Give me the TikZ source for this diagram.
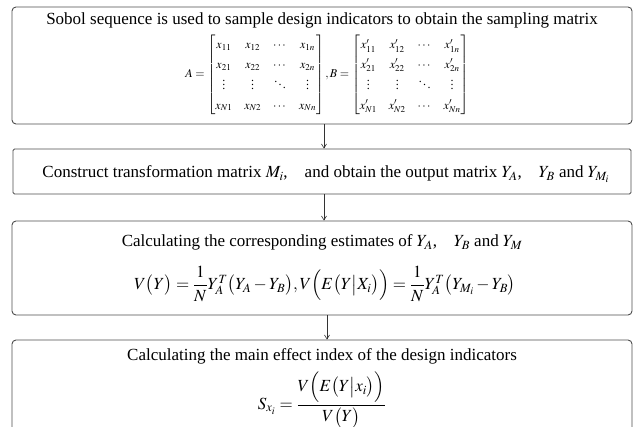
\documentclass[tikz,border=0pt]{standalone}
\usepackage{amsmath}
\usepackage{mathptmx}
\usepackage{fontspec}
\setmainfont{Liberation Serif}
\usetikzlibrary{arrows.meta}
\begin{document}
\begin{tikzpicture}[x=1pt,y=-1pt,
  box/.style={draw=black!70, line width=0.9pt, rounded corners=4pt, inner sep=0pt},
  sqbox/.style={draw=black!70, line width=0.9pt, rounded corners=1.5pt, inner sep=0pt},
  arr/.style={draw=black!80, line width=0.6pt, -{Straight Barb[length=4pt,width=5pt]}},
  txt/.style={font=\fontsize{17}{20}\selectfont, inner sep=0pt},
  eqn/.style={font=\fontsize{17}{20}\selectfont, inner sep=0pt},
  mat/.style={font=\fontsize{12}{14}\selectfont, inner sep=0pt}]
\useasboundingbox (0,0) rectangle (637,427);
\clip (0,0) rectangle (637,427);
% boxes
\node[box, minimum width=620pt, minimum height=117pt] (b1) at (322,65.5) {};
\node[sqbox, minimum width=618pt, minimum height=45pt] (b2) at (322,171.5) {};
\node[box, minimum width=620pt, minimum height=94pt] (b3) at (322,268) {};
\node[box, minimum width=620pt, minimum height=140pt] (b4) at (322,410) {};
% texts
\node[txt, anchor=base] (t1) at (322,25) {Sobol sequence is used to sample design indicators to obtain the sampling matrix};
\node[mat] (m1) at (327,75) {\renewcommand{\arraystretch}{1.4}\setlength{\arraycolsep}{6pt}$\displaystyle A=\begin{bmatrix} x_{11} & x_{12} & \cdots & x_{1n}\\ x_{21} & x_{22} & \cdots & x_{2n}\\ \vdots & \vdots & \ddots & \vdots\\ x_{N1} & x_{N2} & \cdots & x_{Nn}\end{bmatrix},B=\begin{bmatrix} x'_{11} & x'_{12} & \cdots & x'_{1n}\\ x'_{21} & x'_{22} & \cdots & x'_{2n}\\ \vdots & \vdots & \ddots & \vdots\\ x'_{N1} & x'_{N2} & \cdots & x'_{Nn}\end{bmatrix}$};
\node[txt, anchor=base] (t2) at (326,178) {Construct transformation matrix $M_i$,\quad and obtain the output matrix $Y_A$,\quad $Y_B$ and $Y_{M_i}$};
\node[txt, anchor=base] (t3) at (322,247) {Calculating the corresponding estimates of $Y_A$,\quad $Y_B$ and $Y_M$};
\node[eqn] (e3) at (325,284) {$V\bigl(Y\bigr)=\dfrac{1}{N}Y_A^T\bigl(Y_A-Y_B\bigr),V\Bigl(E\bigl(Y\big|X_i\bigr)\Bigr)=\dfrac{1}{N}Y_A^T\bigl(Y_{M_i}-Y_B\bigr)$};
\node[txt, anchor=base] (t4) at (322,361) {Calculating the main effect index of the design indicators};
\node[eqn] (e4) at (322,400) {$S_{x_i}=\dfrac{V\Bigl(E\bigl(Y\big|x_i\bigr)\Bigr)}{V\bigl(Y\bigr)}$};
% arrows
\draw[arr] ([xshift=2pt]b1.south) -- ([xshift=2pt]b2.north);
\draw[arr] ([xshift=2pt]b2.south) -- ([xshift=2pt]b3.north);
\draw[arr] ([xshift=5pt]b3.south) -- ([xshift=5pt]b4.north);
\end{tikzpicture}
\end{document}
